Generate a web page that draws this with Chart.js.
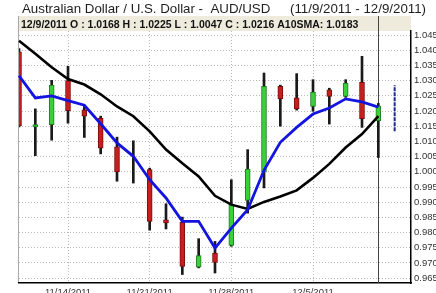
<!DOCTYPE html>
<html>
<head>
<meta charset="utf-8">
<script src="https://cdn.jsdelivr.net/npm/chart.js@4.4.0/dist/chart.umd.min.js"></script>
<style>
  html, body { margin: 0; padding: 0; background: #fff; }
  canvas { display: block; }
</style>
</head>
<body>
<canvas id="fx" width="436" height="293"></canvas>
<script>
// trading days (last two are empty slots to the right of the last candle)
const dates = ['11/9/2011', '11/10/2011', '11/11/2011', '11/14/2011', '11/15/2011', '11/16/2011',
  '11/17/2011', '11/18/2011', '11/21/2011', '11/22/2011', '11/23/2011', '11/24/2011', '11/25/2011',
  '11/28/2011', '11/29/2011', '11/30/2011', '12/1/2011', '12/2/2011', '12/5/2011', '12/6/2011',
  '12/7/2011', '12/8/2011', '12/9/2011', '12/12/2011', '12/13/2011'];
const weekLabels = ['11/14/2011', '11/21/2011', '11/28/2011', '12/5/2011'];

const opens  = [1.0395, 1.0148, 1.0155, 1.0300, 1.0204, 1.0177, 1.0082, 1.0002, 1.0007, 0.9842, 0.9834, 0.9686,
  0.9733, 0.9758, 0.9906, 0.9999, 1.0281, 1.0243, 1.0215, 1.0270, 1.0248, 1.0294, 1.0168];
const highs  = [1.0405, 1.0207, 1.0301, 1.0347, 1.0219, 1.0183, 1.0114, 1.0102, 1.0012, 0.9895, 0.9851, 0.9780,
  0.9771, 0.9974, 1.0073, 1.0325, 1.0285, 1.0323, 1.0303, 1.0275, 1.0303, 1.0380, 1.0225];
const lows   = [1.0148, 1.0053, 1.0104, 1.0160, 1.0113, 1.0059, 0.9969, 0.9963, 0.9808, 0.9812, 0.9662, 0.9684,
  0.9667, 0.9755, 0.9864, 0.9947, 1.0150, 1.0203, 1.0199, 1.0157, 1.0245, 1.0146, 1.0047];
const closes = [1.0152, 1.0155, 1.0285, 1.0201, 1.0183, 1.0078, 1.0000, 1.0002, 0.9837, 0.9832, 0.9689, 0.9724,
  0.9702, 0.9892, 1.0009, 1.0281, 1.0240, 1.0207, 1.0262, 1.0248, 1.0292, 1.0175, 1.0216];

// 10 day SMA (black) and the short average (blue)
const sma10 = [1.0431, 1.0388, 1.0344, 1.0305, 1.0287, 1.0255, 1.0215, 1.0183, 1.0133, 1.0073, 1.0028, 0.9985,
  0.9921, 0.9892, 0.9878, 0.9901, 0.9919, 0.9939, 0.9980, 1.0026, 1.0080, 1.0124, 1.0183];
const shortAvg = [1.0316, 1.0243, 1.0250, 1.0234, 1.0219, 1.0158, 1.0095, 1.0051, 0.9974, 0.9914, 0.9837, 0.9837,
  0.9749, 0.9815, 0.9875, 1.0005, 1.0097, 1.0146, 1.0190, 1.0210, 1.0240, 1.0230, 1.0213];

// projected range for the next day
const projRange = [1.0133, 1.0285];

const yTicks = [0.965, 0.970, 0.975, 0.980, 0.985, 0.990, 0.995, 1.000, 1.005,
  1.010, 1.015, 1.020, 1.025, 1.030, 1.035, 1.040, 1.045];

const last = closes.length - 1;
const bodyColor = (o, c, up, down, flat) => c > o ? up : (c < o ? down : flat);

const frame = {
  id: 'frame',
  beforeDraw(chart) {
    const {ctx, chartArea: a} = chart;
    ctx.save();
    ctx.fillStyle = '#1e1e1e';
    ctx.font = '13.3px "Liberation Sans", Arial, sans-serif';
    ctx.textBaseline = 'alphabetic';
    ctx.fillText('Australian Dollar / U.S. Dollar -  AUD/USD', 22, 13);
    ctx.fillText('(' + dates[0] + ' - ' + dates[last] + ')', 290, 13);

    ctx.fillStyle = '#eeebdd';
    ctx.fillRect(a.left, 16, a.right - a.left, a.top - 16);
    ctx.fillStyle = '#111';
    ctx.font = 'bold 10.5px "Liberation Sans", Arial, sans-serif';
    const info = dates[last] + ' O : ' + opens[last].toFixed(4) + ' H : ' + highs[last].toFixed(4) +
      ' L : ' + lows[last].toFixed(4) + ' C : ' + closes[last].toFixed(4) + ' A10SMA: ' + sma10[last].toFixed(4);
    ctx.fillText(info, 21, 27.5);

    ctx.strokeStyle = '#a8a8a8';
    ctx.lineWidth = 1;
    ctx.beginPath();
    ctx.moveTo(a.left - 0.5, 16);
    ctx.lineTo(a.left - 0.5, a.bottom);
    ctx.stroke();
    ctx.restore();
  },
  beforeDatasetsDraw(chart) {
    const {ctx, chartArea: a} = chart;
    const x = Math.round(chart.scales.x.getPixelForValue(last)) + 0.5;
    ctx.save();
    ctx.strokeStyle = '#444';
    ctx.lineWidth = 1;
    ctx.beginPath();
    ctx.moveTo(x, 16);
    ctx.lineTo(x, a.bottom);
    ctx.stroke();
    ctx.restore();
  }
};

new Chart(document.getElementById('fx'), {
  type: 'bar',
  data: {
    labels: dates,
    datasets: [
      {
        type: 'line',
        data: shortAvg,
        borderColor: '#1414e0',
        borderWidth: 2.8,
        pointRadius: 0,
        tension: 0,
        order: 0
      },
      {
        type: 'line',
        data: sma10,
        borderColor: '#000',
        borderWidth: 2.6,
        pointRadius: 0,
        tension: 0,
        order: 1
      },
      {
        type: 'line',
        data: projRange.map(v => ({x: dates[last + 1], y: v})),
        borderColor: '#1c2a8a',
        borderWidth: 2,
        borderDash: [4, 1],
        pointRadius: 0,
        order: 1
      },
      {
        data: opens.map((o, i) => [o, closes[i]]),
        backgroundColor: opens.map((o, i) => bodyColor(o, closes[i], '#3ccf3c', '#c81e1e', '#222')),
        borderColor: opens.map((o, i) => bodyColor(o, closes[i], '#1f7a1f', '#7a0d0d', '#222')),
        borderWidth: 1,
        borderSkipped: false,
        barThickness: 5,
        grouped: false,
        order: 2
      },
      {
        data: lows.map((l, i) => [l, highs[i]]),
        backgroundColor: '#1a1a1a',
        barThickness: 2,
        grouped: false,
        order: 3
      }
    ]
  },
  options: {
    responsive: false,
    animation: false,
    events: [],
    layout: { padding: { left: 19, top: 31, right: 0, bottom: 0 } },
    plugins: { legend: { display: false }, tooltip: { enabled: false } },
    scales: {
      x: {
        type: 'category',
        offset: false,
        grid: {
          offset: false,
          drawTicks: false,
          color: ctx => weekLabels.includes(dates[ctx.index]) ? '#b8b8b8' : 'rgba(0,0,0,0)'
        },
        border: { color: '#000', width: 1.5, dash: [1, 2] },
        ticks: {
          autoSkip: false,
          maxRotation: 0,
          minRotation: 0,
          padding: 4,
          color: '#333',
          font: { size: 9.5, family: '"Liberation Sans", Arial, sans-serif' },
          callback: (v, i) => weekLabels.includes(dates[i]) ? dates[i] : ''
        },
        afterFit: s => { s.height = 10; }
      },
      y: {
        position: 'right',
        min: 0.96342,
        max: 1.04632,
        afterBuildTicks: s => { s.ticks = yTicks.map(v => ({value: v})); },
        grid: { color: '#b8b8b8', drawTicks: false },
        border: { color: '#000', width: 1.5, dash: [1, 2] },
        ticks: {
          padding: 3,
          color: '#333',
          font: { size: 9.5, family: '"Liberation Sans", Arial, sans-serif' },
          callback: v => v.toFixed(3)
        },
        afterFit: s => { s.width = 25; }
      }
    }
  },
  plugins: [frame]
});
</script>
</body>
</html>
